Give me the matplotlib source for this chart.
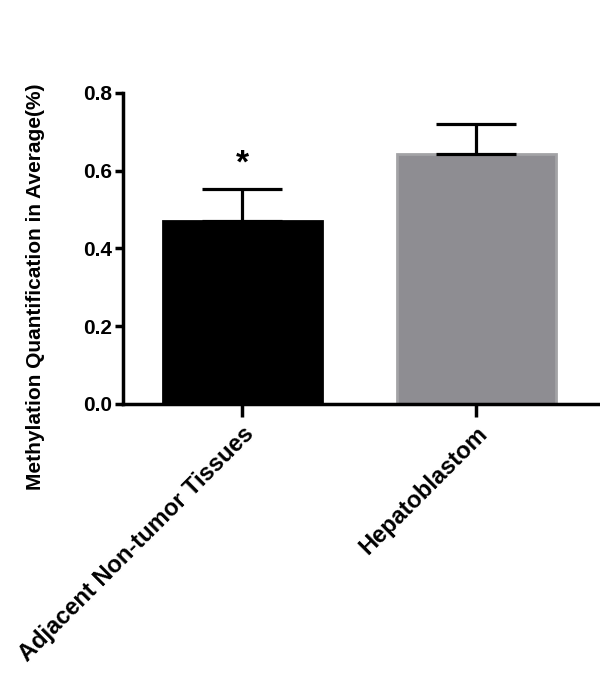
import matplotlib.pyplot as plt

# Data
groups = ['Adjacent Non-tumor Tissues', 'Hepatoblastom']
means = [0.47, 0.643]
errors = [0.082, 0.077]
colors = ['#000000', '#8e8d92']
edge_colors = ['#000000', '#a3a3a6']
y_ticks = [0.0, 0.2, 0.4, 0.6, 0.8]

plt.rcParams['font.family'] = ['Liberation Sans', 'DejaVu Sans']
plt.rcParams['font.weight'] = 'bold'

fig = plt.figure(figsize=(6, 6.73), dpi=100)
ax = fig.add_axes([0.205, 0.4, 0.795, 0.462])

x = list(range(len(groups)))
ax.bar(x, means, width=0.68, color=colors, edgecolor=edge_colors, linewidth=2, zorder=2)
ax.errorbar(x, means, yerr=[[0, 0], errors], fmt='none', ecolor='black',
            elinewidth=2.3, capsize=29, capthick=2.3, zorder=3)

# significance marker
ax.text(x[0], means[0] + errors[0] + 0.025, '*', ha='center', va='bottom',
        fontsize=24, fontweight='bold')

ax.set_xlim(-0.51, 1.53)
ax.set_ylim(0, 0.8)
ax.set_yticks(y_ticks)
ax.set_yticklabels([f'{v:.1f}' for v in y_ticks], fontsize=15, fontweight='bold')
ax.set_xticks(x)
ax.set_xticklabels(groups, rotation=45, ha='right', rotation_mode='anchor',
                   fontsize=17, fontweight='bold')
ax.set_ylabel('Methylation Quantification in Average(%)', fontsize=15,
              fontweight='bold')
ax.yaxis.set_label_coords(-0.163, 0.376)

for side in ['top', 'right']:
    ax.spines[side].set_visible(False)
for side in ['left', 'bottom']:
    ax.spines[side].set_linewidth(2.5)
ax.tick_params(axis='y', length=6, width=2.5, pad=2)
ax.tick_params(axis='x', length=9, width=2.5, pad=4)

fig.savefig('out.png', dpi=100)
